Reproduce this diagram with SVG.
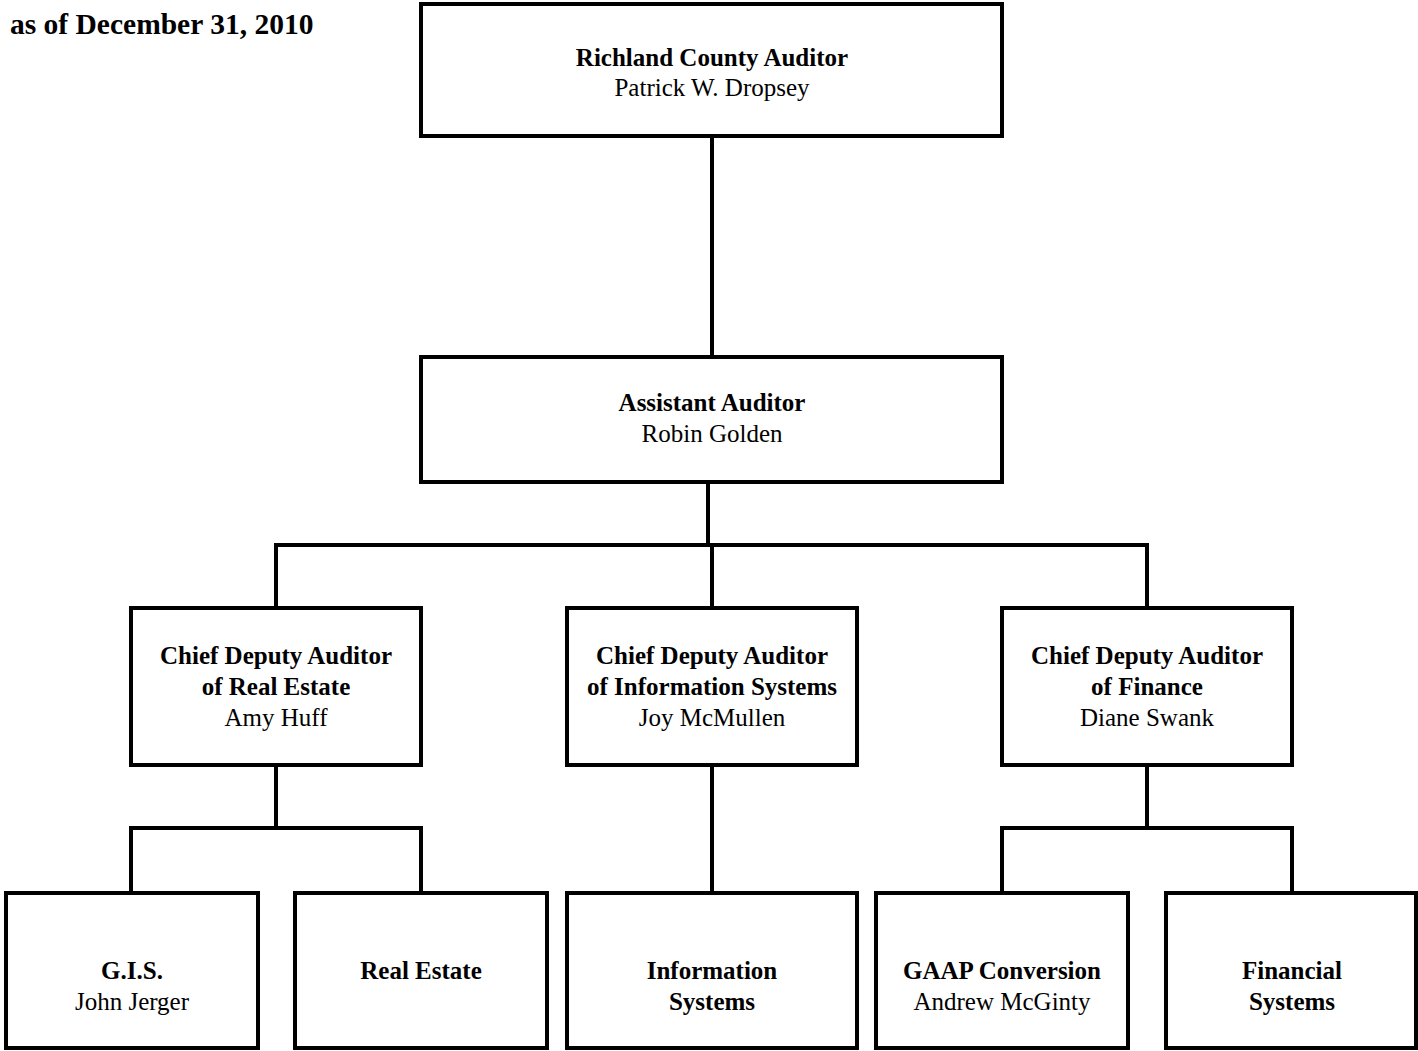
<svg xmlns="http://www.w3.org/2000/svg" width="1418" height="1051" viewBox="0 0 1418 1051">
<style>
.box{fill:#fff;stroke:#000;stroke-width:4}
.ln{fill:none;stroke:#000;stroke-width:4}
text{font-family:"Liberation Serif","Times New Roman",serif;font-size:25px;fill:#000;text-anchor:middle}
.b{font-weight:bold}
.t{font-size:29.5px;font-weight:bold;text-anchor:start}
</style>
<rect width="1418" height="1051" fill="#fff"/>
<text class="t" x="10" y="34">as of December 31, 2010</text>
<g id="connectors">
<path class="ln" d="M712 136V357"/>
<path class="ln" d="M708 482V545M276 545H1147M276 543V608M712 545V608M1147 543V608"/>
<path class="ln" d="M276 765V828M131 828H421M131 826V893M421 826V893"/>
<path class="ln" d="M712 765V893"/>
<path class="ln" d="M1147 765V828M1002 828H1292M1002 826V893M1292 826V893"/>
</g>
<g id="n-auditor"><rect class="box" x="421" y="4" width="581" height="132"/><text class="b" x="712" y="65.5">Richland County Auditor</text><text x="712" y="95.5">Patrick W. Dropsey</text></g>
<g id="n-assistant"><rect class="box" x="421" y="357" width="581" height="125"/><text class="b" x="712" y="410.5">Assistant Auditor</text><text x="712" y="441.5">Robin Golden</text></g>
<g id="n-realestate-chief"><rect class="box" x="131" y="608" width="290" height="157"/><text class="b" x="276" y="663.5">Chief Deputy Auditor</text><text class="b" x="276" y="694.5">of Real Estate</text><text x="276" y="725.5">Amy Huff</text></g>
<g id="n-is-chief"><rect class="box" x="567" y="608" width="290" height="157"/><text class="b" x="712" y="663.5">Chief Deputy Auditor</text><text class="b" x="712" y="694.5">of Information Systems</text><text x="712" y="725.5">Joy McMullen</text></g>
<g id="n-finance-chief"><rect class="box" x="1002" y="608" width="290" height="157"/><text class="b" x="1147" y="663.5">Chief Deputy Auditor</text><text class="b" x="1147" y="694.5">of Finance</text><text x="1147" y="725.5">Diane Swank</text></g>
<g id="n-gis"><rect class="box" x="6" y="893" width="252" height="155"/><text class="b" x="132" y="978.5">G.I.S.</text><text x="132" y="1009.5">John Jerger</text></g>
<g id="n-realestate"><rect class="box" x="295" y="893" width="252" height="155"/><text class="b" x="421" y="978.5">Real Estate</text></g>
<g id="n-is"><rect class="box" x="567" y="893" width="290" height="155"/><text class="b" x="712" y="978.5">Information</text><text class="b" x="712" y="1009.5">Systems</text></g>
<g id="n-gaap"><rect class="box" x="876" y="893" width="252" height="155"/><text class="b" x="1002" y="978.5">GAAP Conversion</text><text x="1002" y="1009.5">Andrew McGinty</text></g>
<g id="n-finsys"><rect class="box" x="1166" y="893" width="250" height="155"/><text class="b" x="1292" y="978.5">Financial</text><text class="b" x="1292" y="1009.5">Systems</text></g>
</svg>
